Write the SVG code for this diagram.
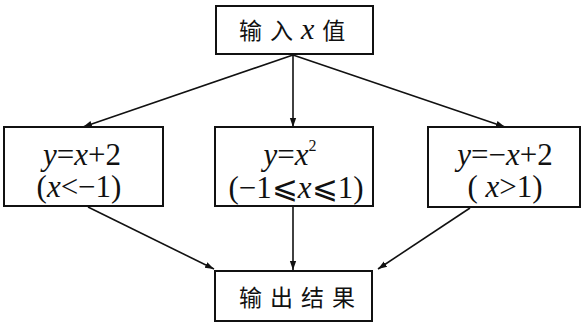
<svg xmlns="http://www.w3.org/2000/svg" width="585" height="325" viewBox="0 0 585 325">
<defs>
<marker id="ah" viewBox="0 0 10 10" refX="10" refY="5" markerWidth="9" markerHeight="9" markerUnits="userSpaceOnUse" orient="auto">
<path d="M0,1.5 L10,5 L0,8.5 Z" fill="#111"/>
</marker>
</defs>
<style>
.box{fill:#fff;stroke:#111;stroke-width:2}
.cn{font-family:'Noto Sans CJK SC',sans-serif;font-size:23px;fill:#111;letter-spacing:8px}
.m{font-family:'Liberation Serif',serif;font-size:31px;fill:#111}
.i{font-style:italic}
.ln{stroke:#111;stroke-width:1.6;fill:none;marker-end:url(#ah)}
</style>
<rect width="585" height="325" fill="#fff"/>
<g id="connectors">
<line class="ln" x1="293" y1="55" x2="83" y2="127"/>
<line class="ln" x1="293" y1="55" x2="293" y2="127"/>
<line class="ln" x1="293" y1="55" x2="505" y2="127"/>
<line class="ln" x1="88" y1="207" x2="214" y2="269"/>
<line class="ln" x1="293" y1="207" x2="293" y2="270"/>
<line class="ln" x1="470" y1="208" x2="378" y2="269"/>
</g>
<g id="input">
<rect class="box" x="216" y="6" width="157" height="48"/>
<text x="239" y="39" class="cn">输入<tspan class="i" font-size="30" font-family="Liberation Serif, serif">x</tspan>值</text>
</g>
<g id="left">
<rect class="box" x="4" y="127" width="159" height="79"/>
<text x="82" y="165" class="m" text-anchor="middle"><tspan class="i">y</tspan>=<tspan class="i">x</tspan>+2</text>
<text x="79" y="197" class="m" text-anchor="middle">(<tspan class="i">x</tspan>&lt;−1)</text>
</g>
<g id="middle">
<rect class="box" x="215" y="127" width="158" height="79"/>
<text x="290" y="165" class="m" text-anchor="middle"><tspan class="i">y</tspan>=<tspan class="i">x</tspan><tspan font-size="16" dy="-14">2</tspan></text>
<text x="296" y="198" class="m" text-anchor="middle">(−1⩽<tspan class="i">x</tspan>⩽1)</text>
</g>
<g id="right">
<rect class="box" x="428" y="127" width="152" height="80"/>
<text x="505" y="165" class="m" text-anchor="middle"><tspan class="i">y</tspan>=−<tspan class="i">x</tspan>+2</text>
<text x="505" y="197" class="m" text-anchor="middle">( <tspan class="i">x</tspan>&gt;1)</text>
</g>
<g id="output">
<rect class="box" x="215" y="271" width="157" height="50"/>
<text x="239" y="306" class="cn">输出结果</text>
</g>
</svg>
